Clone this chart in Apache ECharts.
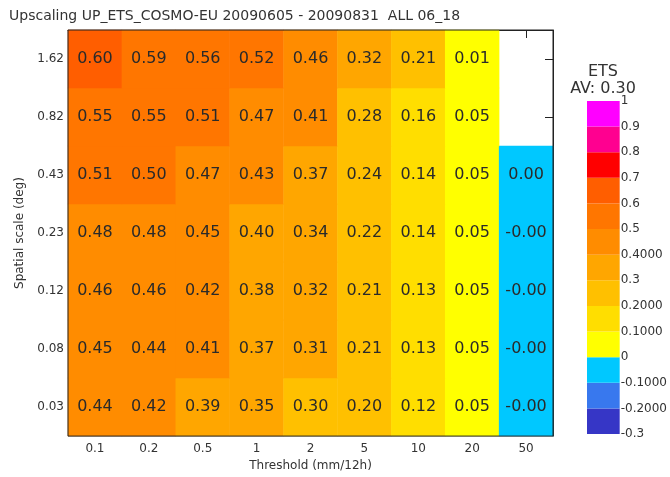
<!DOCTYPE html>
<html>
<head>
<meta charset="utf-8">
<style>
  html, body { margin: 0; padding: 0; background: #fff; }
  #main { width: 670px; height: 477px; }
</style>
<script src="https://cdn.jsdelivr.net/npm/echarts@6/dist/echarts.min.js"></script>
</head>
<body>
<div id="main"></div>
<script>
// threshold (x) and spatial scale (y, bottom -> top)
let thresholds = ['0.1', '0.2', '0.5', '1', '2', '5', '10', '20', '50'];
let scales = ['0.03', '0.08', '0.12', '0.23', '0.43', '0.82', '1.62'];

// ETS per scale row, one value per threshold (null = no data)
let row003 = [0.44, 0.42, 0.39, 0.35, 0.298, 0.20, 0.12, 0.05, -0.001];
let row008 = [0.45, 0.44, 0.41, 0.37, 0.31, 0.21, 0.13, 0.05, -0.001];
let row012 = [0.46, 0.46, 0.42, 0.38, 0.32, 0.21, 0.13, 0.05, -0.001];
let row023 = [0.48, 0.48, 0.45, 0.398, 0.34, 0.22, 0.14, 0.05, -0.001];
let row043 = [0.51, 0.50, 0.47, 0.43, 0.37, 0.24, 0.14, 0.05, 0.00];
let row082 = [0.55, 0.55, 0.51, 0.47, 0.41, 0.28, 0.16, 0.05, null];
let row162 = [0.60, 0.59, 0.56, 0.52, 0.46, 0.32, 0.21, 0.01, null];
let rows = [row003, row008, row012, row023, row043, row082, row162];

// colour bar: bin edges and the colour of each bin (bottom -> top)
let binEdges = [-0.3, -0.2, -0.1, 0, 0.1, 0.2, 0.3, 0.4, 0.5, 0.6, 0.7, 0.8, 0.9, 1];
let binColors = ['#3636c6', '#3878ee', '#00c8ff', '#ffff00', '#ffde00', '#ffc000',
                 '#ffa600', '#ff8c00', '#ff7600', '#ff5e00', '#ff0000', '#ff0090', '#ff00ff'];
let barLabels = ['-0.3', '-0.2000', '-0.1000', '0', '0.1000', '0.2000', '0.3', '0.4000',
                 '0.5', '0.6', '0.7', '0.8', '0.9', '1'];

let myChart = echarts.init(document.getElementById('main'));

let cells = [];
rows.forEach(function (r, yi) {
    r.forEach(function (v, xi) {
        if (v !== null) cells.push([xi, yi, v]);
    });
});

let pieces = [];
let bins = [];
for (let i = 0; i < binColors.length; i++) {
    let lo = binEdges[i], hi = binEdges[i + 1];
    let p = {color: binColors[i]};
    if (hi === 0) { p.gte = lo; p.lte = 0; }          // 0.00 falls in the cyan bin
    else if (lo === 0) { p.gt = 0; p.lt = hi; }
    else if (i === binColors.length - 1) { p.gte = lo; p.lte = hi; }
    else { p.gte = lo; p.lt = hi; }
    pieces.push(p);
    bins.push([lo, hi, i]);
}

let font = 'DejaVu Sans';

let option = {
    backgroundColor: '#fff',
    animation: false,
    title: [
        {text: 'Upscaling UP_ETS_COSMO-EU 20090605 - 20090831  ALL 06_18', left: 4, top: 4,
         textStyle: {fontFamily: font, fontSize: 14, fontWeight: 'normal', color: '#333'}},
        {text: 'ETS', left: 598, top: 59, textAlign: 'center',
         textStyle: {fontFamily: font, fontSize: 16, fontWeight: 'normal', color: '#333'}},
        {text: 'AV: 0.30', left: 598, top: 76, textAlign: 'center',
         textStyle: {fontFamily: font, fontSize: 16, fontWeight: 'normal', color: '#333'}}
    ],
    grid: [
        {left: 68, top: 30, width: 485, height: 407, show: true, z: 10,
         borderColor: '#222', borderWidth: 1, backgroundColor: 'transparent'},
        {left: 587, top: 101, width: 34, height: 333}
    ],
    xAxis: [
        {type: 'category', gridIndex: 0, data: thresholds, position: 'bottom',
         name: 'Threshold (mm/12h)', nameLocation: 'middle', nameGap: 22,
         nameTextStyle: {fontFamily: font, fontSize: 12, color: '#333'},
         axisLine: {show: false}, axisTick: {show: false},
         axisLabel: {fontFamily: font, fontSize: 12, color: '#333', margin: 7},
         splitLine: {show: false}},
        {type: 'category', gridIndex: 0, data: thresholds, position: 'top',
         axisLine: {show: true, lineStyle: {color: '#222'}}, axisLabel: {show: false},
         axisTick: {show: true, inside: true, length: 8, alignWithLabel: true,
                    lineStyle: {color: '#222'}}},
        {type: 'value', gridIndex: 1, min: 0, max: 1, show: false}
    ],
    yAxis: [
        {type: 'category', gridIndex: 0, data: scales, position: 'left',
         name: 'Spatial scale (deg)', nameLocation: 'middle', nameGap: 42,
         nameTextStyle: {fontFamily: font, fontSize: 12, color: '#333'},
         axisLine: {show: false}, axisTick: {show: false},
         axisLabel: {fontFamily: font, fontSize: 12, color: '#333', margin: 4},
         splitLine: {show: false}},
        {type: 'category', gridIndex: 0, data: scales, position: 'right',
         axisLine: {show: true, lineStyle: {color: '#222'}}, axisLabel: {show: false},
         axisTick: {show: true, inside: true, length: 8, alignWithLabel: true,
                    lineStyle: {color: '#222'}}},
        {type: 'value', gridIndex: 1, min: -0.3, max: 1, interval: 0.1, position: 'right',
         axisLine: {show: false}, axisTick: {show: false}, splitLine: {show: false},
         axisLabel: {fontFamily: font, fontSize: 12, color: '#333', margin: 1,
                     formatter: function (v) {
                         let i = Math.round(v * 10) + 3;
                         return barLabels[i] !== undefined ? barLabels[i] : '';
                     }}}
    ],
    visualMap: {
        type: 'piecewise', show: false, seriesIndex: 0, dimension: 2,
        pieces: pieces
    },
    series: [
        {
            type: 'heatmap',
            xAxisIndex: 0, yAxisIndex: 0,
            data: cells,
            label: {
                show: true, fontFamily: font, fontSize: 16, color: '#2a2a2a',
                formatter: function (p) { return p.value[2].toFixed(2); }
            },
            emphasis: {disabled: true}
        },
        {
            type: 'custom',
            xAxisIndex: 2, yAxisIndex: 2,
            data: bins,
            renderItem: function (params, api) {
                let a = api.coord([0, api.value(1)]);
                let b = api.coord([1, api.value(0)]);
                return {
                    type: 'rect',
                    shape: {x: a[0], y: a[1], width: b[0] - a[0], height: b[1] - a[1]},
                    style: {fill: binColors[api.value(2)]}
                };
            }
        }
    ]
};

myChart.setOption(option);
</script>
</body>
</html>
